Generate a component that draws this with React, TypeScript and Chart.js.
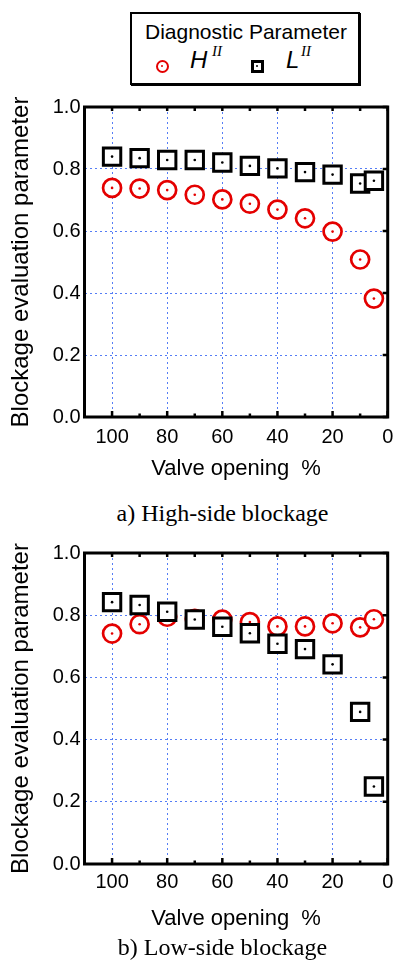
import React, { useEffect, useRef } from 'react';
import { Chart, registerables } from 'chart.js';

Chart.register(...registerables);

// ---- data ----
const openings = [100, 90, 80, 70, 60, 50, 40, 30, 20, 10, 5];
const highSideH = [0.739, 0.737, 0.732, 0.717, 0.702, 0.688, 0.669, 0.641, 0.598, 0.508, 0.382];
const highSideL = [0.840, 0.835, 0.829, 0.829, 0.821, 0.810, 0.802, 0.790, 0.782, 0.753, 0.762];
const lowSideH = [0.741, 0.771, 0.795, 0.788, 0.786, 0.778, 0.764, 0.764, 0.774, 0.761, 0.787];
const lowSideL = [0.842, 0.833, 0.811, 0.786, 0.763, 0.742, 0.708, 0.691, 0.642, 0.489, 0.249];

const xTickValues = [0, 20, 40, 60, 80, 100];
const xMinorTickValues = [10, 30, 50, 70, 90];
const yTickValues = [0, 0.2, 0.4, 0.6, 0.8, 1.0];

const xTitle = 'Valve opening  %';
const yTitle = 'Blockage evaluation parameter';
const legendTitle = 'Diagnostic Parameter';
const captionA = 'a) High-side blockage';
const captionB = 'b) Low-side blockage';

const RED = 'rgb(228,0,0)';
const GRID = 'rgb(85,125,245)';
const SANS = "'Liberation Sans', Arial, sans-serif";
const SERIF = "'Liberation Serif', 'Times New Roman', serif";

const framePlugin = {
  id: 'frame',
  afterDatasetsDraw(chart: any) {
    const { ctx, chartArea: a, scales } = chart;
    const x = scales.x;
    const y = scales.y;
    ctx.save();
    ctx.strokeStyle = '#000';
    ctx.lineWidth = 2.5;
    ctx.beginPath();
    for (const v of xTickValues) {
      const px = x.getPixelForValue(v);
      ctx.moveTo(px, a.bottom);
      ctx.lineTo(px, a.bottom - 6);
      ctx.moveTo(px, a.top);
      ctx.lineTo(px, a.top + 4);
    }
    for (const v of xMinorTickValues) {
      const px = x.getPixelForValue(v);
      ctx.moveTo(px, a.bottom);
      ctx.lineTo(px, a.bottom - 3.5);
      ctx.moveTo(px, a.top);
      ctx.lineTo(px, a.top + 4);
    }
    for (const v of yTickValues) {
      const py = y.getPixelForValue(v);
      ctx.moveTo(a.right, py);
      ctx.lineTo(a.right - 5, py);
    }
    ctx.stroke();
    ctx.lineWidth = 3;
    ctx.strokeRect(a.left, a.top, a.right - a.left, a.bottom - a.top);
    ctx.restore();
  },
};

type PanelProps = {
  h: number[];
  l: number[];
  top: number;
  height: number;
  plotHeight: number;
  tickPad: number;
  titlePad: number;
};

function Panel({ h, l, top, height, plotHeight, tickPad, titlePad }: PanelProps) {
  const ref = useRef<HTMLCanvasElement | null>(null);
  useEffect(() => {
    if (!ref.current) return;
    const pts = (vals: number[]) => openings.map((o, i) => ({ x: o, y: vals[i] }));
    const padTop = 17;
    const xHeight = height - padTop - plotHeight;
    const chart = new Chart(ref.current, {
      type: 'scatter',
      data: {
        datasets: [
          {
            label: 'L dot',
            data: pts(l),
            pointStyle: 'circle',
            pointRadius: 1.3,
            backgroundColor: '#000',
            borderWidth: 0,
            order: 0,
          },
          {
            label: 'L',
            data: pts(l),
            pointStyle: 'rect',
            pointRadius: 12.3,
            borderColor: '#000',
            borderWidth: 3,
            backgroundColor: '#fff',
            order: 1,
          },
          {
            label: 'H dot',
            data: pts(h),
            pointStyle: 'circle',
            pointRadius: 1.3,
            backgroundColor: RED,
            borderWidth: 0,
            order: 2,
          },
          {
            label: 'H',
            data: pts(h),
            pointStyle: 'circle',
            pointRadius: 9,
            borderColor: RED,
            borderWidth: 2.7,
            backgroundColor: '#fff',
            order: 3,
          },
        ] as any,
      },
      options: {
        animation: false,
        responsive: false,
        maintainAspectRatio: false,
        layout: { padding: { top: padTop, right: 7, left: 0, bottom: 0 } },
        plugins: { legend: { display: false }, tooltip: { enabled: false } },
        events: [],
        scales: {
          x: {
            type: 'linear',
            reverse: true,
            min: 0,
            max: 110,
            afterBuildTicks: (s: any) => {
              s.ticks = xTickValues.map((v) => ({ value: v }));
            },
            afterFit: (s: any) => {
              s.height = xHeight;
            },
            ticks: {
              color: '#000',
              padding: tickPad,
              maxRotation: 0,
              font: { family: SANS, size: 20 },
              callback: (v: any) => String(v),
            },
            grid: { color: GRID, lineWidth: 1, drawTicks: false },
            border: { display: false, dash: [2, 3] },
            title: {
              display: true,
              text: xTitle,
              color: '#000',
              font: { family: SANS, size: 22 },
              padding: { top: 0, bottom: titlePad },
            },
          },
          y: {
            type: 'linear',
            min: 0,
            max: 1,
            afterBuildTicks: (s: any) => {
              s.ticks = yTickValues.map((v) => ({ value: v }));
            },
            afterFit: (s: any) => {
              s.width = 84.5;
            },
            ticks: {
              color: '#000',
              padding: 4,
              font: { family: SANS, size: 20 },
              callback: (v: any) => Number(v).toFixed(1),
            },
            grid: { color: GRID, lineWidth: 1, drawTicks: false },
            border: { display: false, dash: [2, 3] },
            title: {
              display: true,
              text: yTitle,
              color: '#000',
              font: { family: SANS, size: 24 },
              padding: { top: 7, bottom: 0 },
            },
          },
        },
      } as any,
      plugins: [framePlugin],
    });
    return () => chart.destroy();
  }, [h, l, height, plotHeight, tickPad, titlePad]);
  return (
    <canvas
      ref={ref}
      width={403}
      height={height}
      style={{ position: 'absolute', left: 0, top, width: 403, height }}
    />
  );
}

function Sup({ children }: { children: React.ReactNode }) {
  return (
    <span style={{ fontFamily: SERIF, fontStyle: 'italic', fontSize: 15 }}>{children}</span>
  );
}

export default function App() {
  const abs: React.CSSProperties = { position: 'absolute', whiteSpace: 'nowrap' };
  return (
    <div
      style={{
        position: 'absolute',
        left: 0,
        top: 0,
        width: 403,
        height: 962,
        background: '#fff',
        overflow: 'hidden',
      }}
    >
      {/* legend */}
      <div
        style={{
          ...abs,
          left: 130,
          top: 12,
          width: 230,
          height: 73,
          border: '2px solid #000',
          boxShadow: '1px 1px 0 #000',
          boxSizing: 'border-box',
        }}
      />
      <div style={{ ...abs, left: 145, top: 21, fontFamily: SANS, fontSize: 21, lineHeight: '21px', color: '#000' }}>
        {legendTitle}
      </div>
      <div
        style={{
          ...abs,
          left: 155.5,
          top: 59.5,
          width: 13,
          height: 13,
          borderRadius: '50%',
          border: `2.7px solid ${RED}`,
          boxSizing: 'border-box',
        }}
      />
      <div style={{ ...abs, left: 160.8, top: 64.8, width: 2.4, height: 2.4, borderRadius: '50%', background: RED }} />
      <div style={{ ...abs, left: 190, top: 47.5, fontFamily: SANS, fontStyle: 'italic', fontSize: 24, lineHeight: '24px' }}>
        H
      </div>
      <div style={{ ...abs, left: 212, top: 43, lineHeight: '15px' }}>
        <Sup>II</Sup>
      </div>
      <div
        style={{
          ...abs,
          left: 250.5,
          top: 59.5,
          width: 13,
          height: 13,
          border: '3px solid #000',
          boxSizing: 'border-box',
        }}
      />
      <div style={{ ...abs, left: 255.8, top: 64.8, width: 2.4, height: 2.4, borderRadius: '50%', background: '#000' }} />
      <div style={{ ...abs, left: 286, top: 47.5, fontFamily: SANS, fontStyle: 'italic', fontSize: 24, lineHeight: '24px' }}>
        L
      </div>
      <div style={{ ...abs, left: 301, top: 43, lineHeight: '15px' }}>
        <Sup>II</Sup>
      </div>

      <Panel h={highSideH} l={highSideL} top={90} height={392} plotHeight={310} tickPad={8} titlePad={0} />
      <div
        style={{
          ...abs,
          left: 0,
          width: 445,
          textAlign: 'center',
          top: 501,
          fontFamily: SERIF,
          fontSize: 24,
          lineHeight: '24px',
          color: '#000',
        }}
      >
        {captionA}
      </div>

      <Panel h={lowSideH} l={lowSideL} top={536} height={400} plotHeight={311} tickPad={6} titlePad={4} />
      <div
        style={{
          ...abs,
          left: 0,
          width: 445,
          textAlign: 'center',
          top: 935,
          fontFamily: SERIF,
          fontSize: 24,
          lineHeight: '24px',
          color: '#000',
        }}
      >
        {captionB}
      </div>
    </div>
  );
}
